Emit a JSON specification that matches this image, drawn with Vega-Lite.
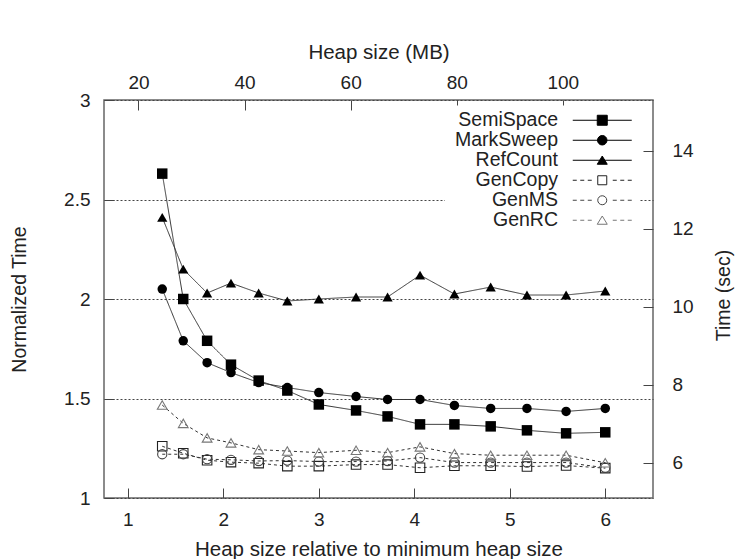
{
 "$schema": "https://vega.github.io/schema/vega-lite/v6.json",
 "width": 549, "height": 398,
 "autosize": {"type": "none"},
 "padding": {"left": 104, "top": 100, "right": 86, "bottom": 61},
 "background": "white",
 "config": {
  "font": "Liberation Sans",
  "view": {"stroke": "#666", "strokeWidth": 1.5},
  "axis": {"domain": false, "grid": false, "tickSize": -10, "tickColor": "#444", "tickWidth": 1,
   "labelFontSize": 19, "labelColor": "#222", "titleFontSize": 19.5, "titleFontWeight": "normal", "titleColor": "#222",
   "labelFont": "Liberation Sans", "titleFont": "Liberation Sans"},
  "legend": {"title": null, "orient": "none", "legendX": 341, "legendY": 5.5, "padding": 5, "fillColor": "white",
   "labelFontSize": 19.5, "labelColor": "#222", "labelFont": "Liberation Sans", "labelAlign": "right",
   "labelOffset": -54, "symbolOffset": 142.5, "symbolSize": 100, "symbolStrokeWidth": 1, "rowPadding": -1}
 },
 "data": {"values": [
  {"s":"SemiSpace","r":1.36,"t":2.63},{"s":"SemiSpace","r":1.58,"t":2.0},{"s":"SemiSpace","r":1.83,"t":1.79},{"s":"SemiSpace","r":2.08,"t":1.67},{"s":"SemiSpace","r":2.37,"t":1.59},{"s":"SemiSpace","r":2.67,"t":1.54},{"s":"SemiSpace","r":3.0,"t":1.47},{"s":"SemiSpace","r":3.39,"t":1.44},{"s":"SemiSpace","r":3.72,"t":1.41},{"s":"SemiSpace","r":4.06,"t":1.37},{"s":"SemiSpace","r":4.42,"t":1.37},{"s":"SemiSpace","r":4.8,"t":1.36},{"s":"SemiSpace","r":5.18,"t":1.34},{"s":"SemiSpace","r":5.59,"t":1.325},{"s":"SemiSpace","r":6.0,"t":1.33},
  {"s":"MarkSweep","r":1.36,"t":2.05},{"s":"MarkSweep","r":1.58,"t":1.79},{"s":"MarkSweep","r":1.83,"t":1.68},{"s":"MarkSweep","r":2.08,"t":1.63},{"s":"MarkSweep","r":2.37,"t":1.58},{"s":"MarkSweep","r":2.67,"t":1.555},{"s":"MarkSweep","r":3.0,"t":1.53},{"s":"MarkSweep","r":3.39,"t":1.51},{"s":"MarkSweep","r":3.72,"t":1.495},{"s":"MarkSweep","r":4.06,"t":1.495},{"s":"MarkSweep","r":4.42,"t":1.465},{"s":"MarkSweep","r":4.8,"t":1.45},{"s":"MarkSweep","r":5.18,"t":1.45},{"s":"MarkSweep","r":5.59,"t":1.435},{"s":"MarkSweep","r":6.0,"t":1.45},
  {"s":"RefCount","r":1.36,"t":2.41},{"s":"RefCount","r":1.58,"t":2.15},{"s":"RefCount","r":1.83,"t":2.03},{"s":"RefCount","r":2.08,"t":2.08},{"s":"RefCount","r":2.37,"t":2.03},{"s":"RefCount","r":2.67,"t":1.99},{"s":"RefCount","r":3.0,"t":2.0},{"s":"RefCount","r":3.39,"t":2.01},{"s":"RefCount","r":3.72,"t":2.01},{"s":"RefCount","r":4.06,"t":2.12},{"s":"RefCount","r":4.42,"t":2.025},{"s":"RefCount","r":4.8,"t":2.06},{"s":"RefCount","r":5.18,"t":2.02},{"s":"RefCount","r":5.59,"t":2.02},{"s":"RefCount","r":6.0,"t":2.04},
  {"s":"GenCopy","r":1.36,"t":1.26},{"s":"GenCopy","r":1.58,"t":1.225},{"s":"GenCopy","r":1.83,"t":1.19},{"s":"GenCopy","r":2.08,"t":1.18},{"s":"GenCopy","r":2.37,"t":1.175},{"s":"GenCopy","r":2.67,"t":1.16},{"s":"GenCopy","r":3.0,"t":1.16},{"s":"GenCopy","r":3.39,"t":1.168},{"s":"GenCopy","r":3.72,"t":1.168},{"s":"GenCopy","r":4.06,"t":1.152},{"s":"GenCopy","r":4.42,"t":1.162},{"s":"GenCopy","r":4.8,"t":1.162},{"s":"GenCopy","r":5.18,"t":1.158},{"s":"GenCopy","r":5.59,"t":1.163},{"s":"GenCopy","r":6.0,"t":1.15},
  {"s":"GenMS","r":1.36,"t":1.22},{"s":"GenMS","r":1.58,"t":1.22},{"s":"GenMS","r":1.83,"t":1.195},{"s":"GenMS","r":2.08,"t":1.192},{"s":"GenMS","r":2.37,"t":1.186},{"s":"GenMS","r":2.67,"t":1.188},{"s":"GenMS","r":3.0,"t":1.183},{"s":"GenMS","r":3.39,"t":1.183},{"s":"GenMS","r":3.72,"t":1.186},{"s":"GenMS","r":4.06,"t":1.203},{"s":"GenMS","r":4.42,"t":1.178},{"s":"GenMS","r":4.8,"t":1.178},{"s":"GenMS","r":5.18,"t":1.178},{"s":"GenMS","r":5.59,"t":1.178},{"s":"GenMS","r":6.0,"t":1.152},
  {"s":"GenRC","r":1.36,"t":1.467},{"s":"GenRC","r":1.58,"t":1.375},{"s":"GenRC","r":1.83,"t":1.302},{"s":"GenRC","r":2.08,"t":1.277},{"s":"GenRC","r":2.37,"t":1.243},{"s":"GenRC","r":2.67,"t":1.236},{"s":"GenRC","r":3.0,"t":1.228},{"s":"GenRC","r":3.39,"t":1.24},{"s":"GenRC","r":3.72,"t":1.228},{"s":"GenRC","r":4.06,"t":1.257},{"s":"GenRC","r":4.42,"t":1.223},{"s":"GenRC","r":4.8,"t":1.215},{"s":"GenRC","r":5.18,"t":1.215},{"s":"GenRC","r":5.59,"t":1.215},{"s":"GenRC","r":6.0,"t":1.177}
 ]},
 "layer": [
  {
   "encoding": {
    "x": {"field": "r", "type": "quantitative", "scale": {"domain": [0.75, 6.5], "nice": false, "zero": false},
     "axis": {"orient": "bottom", "values": [1,2,3,4,5,6], "format": "d", "labelPadding": 22,
      "title": "Heap size relative to minimum heap size", "titleFontSize": 20.5, "titleY": 57.5, "titleBaseline": "alphabetic"}},
    "y": {"field": "t", "type": "quantitative", "scale": {"domain": [1, 3], "nice": false, "zero": false},
     "axis": {"orient": "left", "values": [1,1.5,2,2.5,3], "format": "~g", "labelPadding": 24,
      "grid": true, "gridDash": [2,2], "gridColor": "#444", "gridWidth": 1,
      "title": "Normalized Time", "titleX": -79, "titleY": 199, "titleAngle": 270, "titleBaseline": "alphabetic", "titleAlign": "center"}}
   },
   "layer": [
    {"mark": {"type": "line", "stroke": "#333", "strokeWidth": 1},
     "encoding": {
      "detail": {"field": "s", "type": "nominal"},
      "strokeDash": {"field": "s", "type": "nominal",
       "scale": {"domain": ["GenCopy","GenMS","GenRC","MarkSweep","RefCount","SemiSpace"], "range": [[3,3],[3,3],[3,3],[1,0],[1,0],[1,0]]},
       "legend": null}
     }},
    {"transform": [{"filter": "datum.s === 'SemiSpace'"}],
     "mark": {"type": "point", "shape": "square", "filled": true, "color": "#000", "size": 110, "opacity": 1, "strokeWidth": 1}},
    {"transform": [{"filter": "datum.s === 'MarkSweep'"}],
     "mark": {"type": "point", "shape": "circle", "filled": true, "color": "#000", "size": 90, "opacity": 1, "strokeWidth": 1}},
    {"transform": [{"filter": "datum.s === 'RefCount'"}],
     "mark": {"type": "point", "shape": "triangle-up", "filled": true, "color": "#000", "size": 105, "opacity": 1, "strokeWidth": 1}},
    {"transform": [{"filter": "datum.s === 'GenCopy'"}],
     "mark": {"type": "point", "shape": "square", "filled": false, "color": "#222", "size": 90, "opacity": 1, "strokeWidth": 1.1}},
    {"transform": [{"filter": "datum.s === 'GenMS'"}],
     "mark": {"type": "point", "shape": "circle", "filled": false, "color": "#444", "size": 85, "opacity": 1, "strokeWidth": 1.1}},
    {"transform": [{"filter": "datum.s === 'GenRC'"}],
     "mark": {"type": "point", "shape": "triangle-up", "filled": false, "color": "#777", "size": 95, "opacity": 1, "strokeWidth": 1.1}},
    {"transform": [{"filter": "datum.r > 100"}],
     "mark": {"type": "point", "filled": true, "opacity": 1, "strokeWidth": 1},
     "encoding": {
      "shape": {"field": "s", "type": "nominal",
       "scale": {"domain": ["SemiSpace","MarkSweep","RefCount","GenCopy","GenMS","GenRC"],
        "range": ["M-5.9,0H5.9M-1,-1H1V1H-1Z",
                  "M-5.9,0H5.9M0.95,0A0.95,0.95,0,1,1,-0.95,0A0.95,0.95,0,1,1,0.95,0Z",
                  "M-5.9,0H5.9M0,-0.85L1,0.8H-1Z",
                  "M-5.9,0H-5.1M-4.4,0H-3.6M-2.9,0H-2.1M2.1,0H2.9M3.6,0H4.4M5.1,0H5.9M-0.9,-0.9H0.9V0.9H-0.9Z",
                  "M-5.9,0H-5.1M-4.4,0H-3.6M-2.9,0H-2.1M2.1,0H2.9M3.6,0H4.4M5.1,0H5.9M0.9,0A0.9,0.9,0,1,1,-0.9,0A0.9,0.9,0,1,1,0.9,0Z",
                  "M-5.9,0H-5.1M-4.4,0H-3.6M-2.9,0H-2.1M2.1,0H2.9M3.6,0H4.4M5.1,0H5.9M0,-0.85L1,0.8H-1Z"]},
       "legend": {"title": null}},
      "fill": {"field": "s", "type": "nominal",
       "scale": {"domain": ["SemiSpace","MarkSweep","RefCount","GenCopy","GenMS","GenRC"], "range": ["#000","#000","#000","transparent","transparent","transparent"]},
       "legend": {"title": null}},
      "stroke": {"field": "s", "type": "nominal",
       "scale": {"domain": ["SemiSpace","MarkSweep","RefCount","GenCopy","GenMS","GenRC"], "range": ["#000","#000","#000","#222","#444","#777"]},
       "legend": {"title": null}}
     }}
   ]
  },
  {
   "mark": {"type": "point", "opacity": 0},
   "encoding": {
    "x": {"field": "mb", "type": "quantitative", "scale": {"domain": [13.5, 117], "nice": false, "zero": false},
     "axis": {"orient": "top", "values": [20,40,60,80,100], "format": "d", "labelPadding": 17.7,
      "title": "Heap size (MB)", "titleFontSize": 20.5, "titleY": -42, "titleBaseline": "alphabetic"}},
    "y": {"field": "sec", "type": "quantitative", "scale": {"domain": [5.1, 15.3], "nice": false, "zero": false},
     "axis": {"orient": "right", "values": [6,8,10,12,14], "format": "d", "labelPadding": 29,
      "title": "Time (sec)", "titleX": 76, "titleY": 195, "titleAngle": 270, "titleBaseline": "alphabetic", "titleAlign": "center"}}
   }
  }
 ],
 "resolve": {"scale": {"x": "independent", "y": "independent"}}
}
